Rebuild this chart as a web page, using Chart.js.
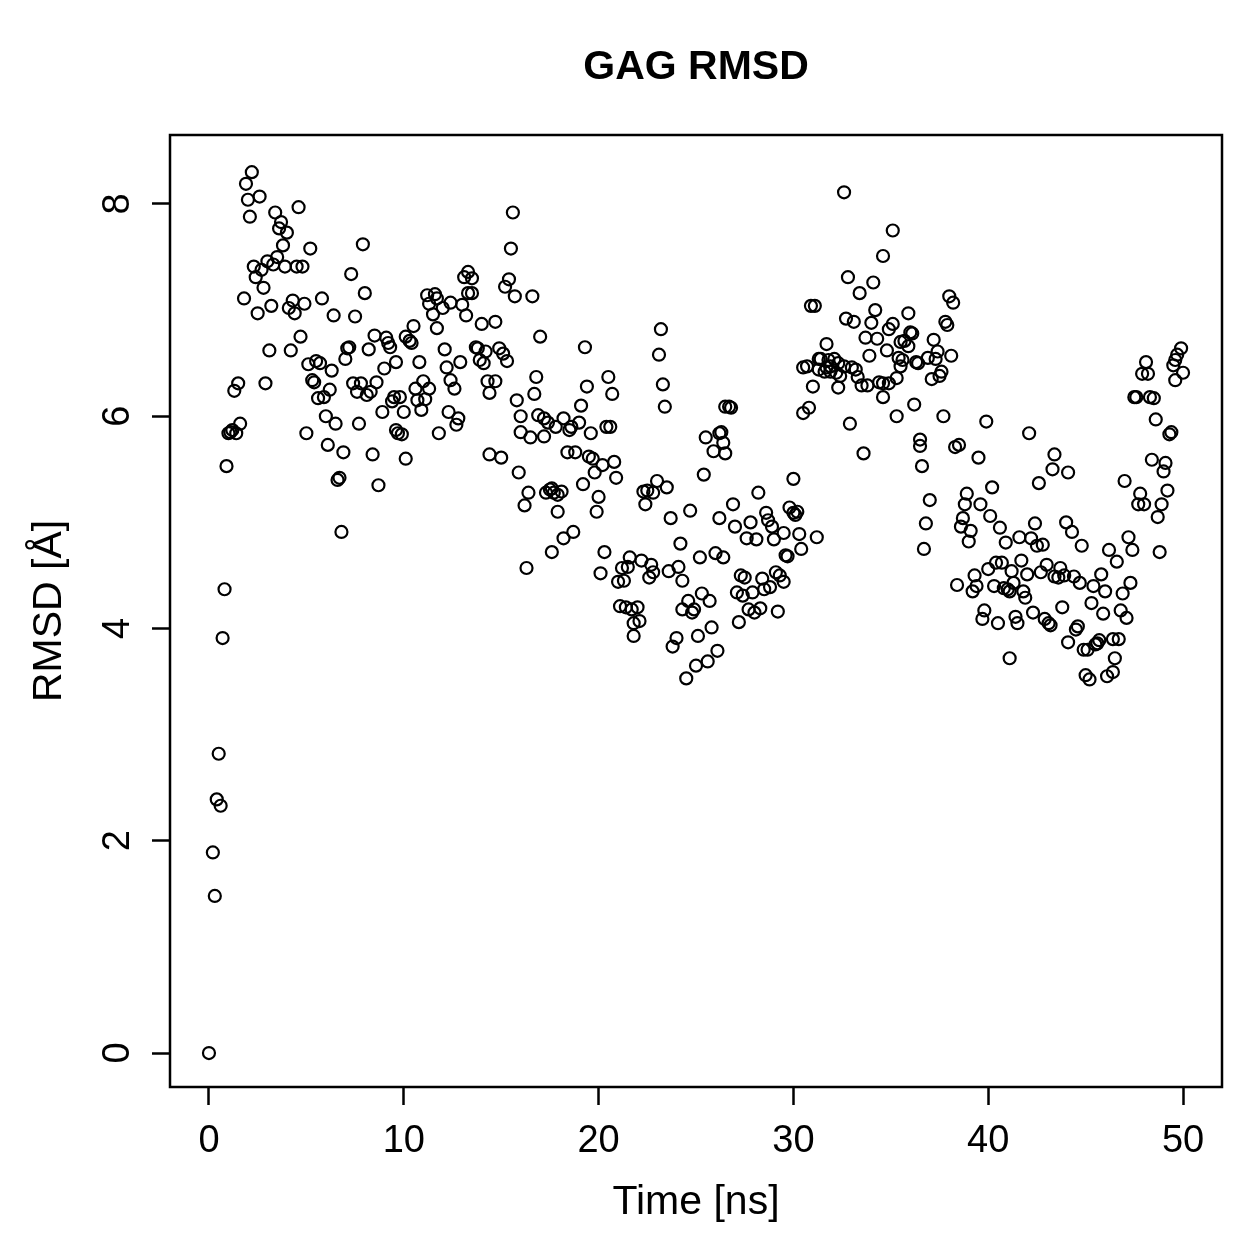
<!DOCTYPE html>
<html>
<head>
<meta charset="utf-8">
<title>GAG RMSD</title>
<script src="https://cdn.jsdelivr.net/npm/chart.js@4.4.1/dist/chart.umd.min.js"></script>
<style>
  html, body { margin: 0; padding: 0; background: #fff; }
</style>
</head>
<body>
<canvas id="rmsd-chart" width="1259" height="1259"></canvas>
<script>
// values, time in ns and RMSD in angstrom
const timeNs = [
  0.0, 0.2, 0.3, 0.4, 0.5, 0.6, 0.7, 0.8, 0.9, 1.0,
  1.1, 1.2, 1.3, 1.4, 1.5, 1.6, 1.8, 1.9, 2.0, 2.1,
  2.2, 2.3, 2.4, 2.5, 2.6, 2.7, 2.8, 2.9, 3.0, 3.1,
  3.2, 3.3, 3.4, 3.5, 3.6, 3.7, 3.8, 3.9, 4.0, 4.1,
  4.2, 4.3, 4.4, 4.5, 4.6, 4.7, 4.8, 4.9, 5.0, 5.1,
  5.2, 5.3, 5.4, 5.5, 5.6, 5.7, 5.8, 5.9, 6.0, 6.1,
  6.2, 6.3, 6.4, 6.5, 6.6, 6.7, 6.8, 6.9, 7.0, 7.1,
  7.2, 7.3, 7.4, 7.5, 7.6, 7.7, 7.8, 7.9, 8.0, 8.1,
  8.2, 8.3, 8.4, 8.5, 8.6, 8.7,
  8.9, 9.0, 9.1, 9.2, 9.3, 9.4, 9.5, 9.6, 9.6, 9.7,
  9.8, 9.9, 10.0, 10.1, 10.1, 10.3, 10.4, 10.5, 10.6, 10.7,
  10.8, 10.9, 11.0, 11.1, 11.2, 11.3, 11.3, 11.5, 11.6, 11.7,
  11.7, 11.8, 12.0, 12.1, 12.2, 12.3, 12.4, 12.4, 12.6, 12.7,
  12.8, 12.9, 13.0, 13.1, 13.2, 13.3, 13.3, 13.5, 13.5, 13.7,
  13.8, 13.9, 14.0, 14.1, 14.2, 14.3, 14.4, 14.4, 14.7, 14.7,
  14.9, 15.0, 15.1, 15.2, 15.3, 15.4, 15.5, 15.6, 15.7, 15.8,
  15.9, 16.0, 16.0, 16.2, 16.3, 16.4, 16.5, 16.6, 16.7, 16.8,
  16.9, 17.0, 17.2, 17.2, 17.3, 17.4, 17.5, 17.6, 17.6, 17.7,
  17.8, 17.9, 17.9, 18.1, 18.2, 18.2, 18.4, 18.5, 18.6, 18.7,
  18.8, 19.0, 19.1, 19.2, 19.3, 19.4, 19.5, 19.6, 19.7, 19.8,
  19.9, 20.0, 20.1, 20.2, 20.3, 20.4, 20.5, 20.6, 20.7, 20.8,
  20.9, 21.0, 21.1, 21.2, 21.3, 21.4, 21.5, 21.6, 21.7, 21.8,
  21.8, 22.0, 22.1, 22.2, 22.3, 22.4, 22.5, 22.6, 22.7, 22.8,
  22.8, 23.0, 23.1, 23.2, 23.3, 23.4, 23.5, 23.6, 23.7, 23.8,
  24.0, 24.1, 24.2, 24.3, 24.3, 24.5, 24.6, 24.7, 24.8, 24.9,
  25.0, 25.1, 25.2, 25.3, 25.4, 25.5, 25.6, 25.7, 25.8, 25.9,
  26.0, 26.1, 26.2, 26.2, 26.3, 26.4, 26.4, 26.5, 26.5, 26.7,
  26.8, 26.9, 27.0, 27.1, 27.2, 27.3, 27.4, 27.5, 27.6, 27.7,
  27.8, 27.9, 28.0, 28.1, 28.2, 28.3, 28.4, 28.5, 28.6, 28.7,
  28.8, 28.9, 29.0, 29.1, 29.2, 29.3, 29.5, 29.5, 29.6, 29.7,
  29.8, 30.0, 30.0, 30.1, 30.2, 30.3, 30.4, 30.5, 30.5, 30.7,
  30.8, 30.9, 31.0, 31.1, 31.2, 31.3, 31.3, 31.4, 31.6, 31.7,
  31.7, 31.8, 31.9, 31.9, 32.1, 32.2, 32.3, 32.3, 32.4, 32.6,
  32.6, 32.7, 32.8, 32.9, 33.0, 33.1, 33.2, 33.3, 33.4, 33.5,
  33.6, 33.7, 33.8, 33.9, 34.0, 34.1, 34.2, 34.3, 34.4, 34.6,
  34.6, 34.6, 34.8, 34.9, 34.9, 35.1, 35.1, 35.3, 35.3, 35.4,
  35.5, 35.5, 35.6, 35.7, 35.9, 35.9, 36.0, 36.1, 36.2, 36.3,
  36.4, 36.5, 36.5, 36.6, 36.7, 36.8, 36.9, 37.0, 37.1, 37.2,
  37.3, 37.4, 37.5, 37.6, 37.7, 37.8, 37.9, 38.0, 38.1, 38.2,
  38.3, 38.4, 38.5, 38.6, 38.7, 38.8, 38.9, 39.0, 39.1, 39.2,
  39.3, 39.4, 39.5, 39.6, 39.7, 39.8, 39.9, 40.0, 40.1, 40.2,
  40.3, 40.4, 40.5, 40.6, 40.7, 40.8, 40.9, 41.0, 41.1, 41.1,
  41.2, 41.3, 41.4, 41.5, 41.6, 41.7, 41.8, 41.9, 42.0, 42.1,
  42.2, 42.3, 42.4, 42.5, 42.6, 42.7, 42.8, 42.9, 43.0, 43.1,
  43.2, 43.3, 43.4, 43.4, 43.6, 43.7, 43.8, 43.9, 44.0, 44.1,
  44.1, 44.3, 44.4, 44.5, 44.6, 44.7, 44.8, 44.9, 45.0, 45.1,
  45.2, 45.3, 45.4, 45.5, 45.6, 45.7, 45.8, 45.9, 46.0, 46.1,
  46.2, 46.4, 46.4, 46.5, 46.6, 46.7, 46.8, 46.9, 47.0, 47.1,
  47.2, 47.3, 47.4, 47.5, 47.6, 47.7, 47.8, 47.9, 48.0, 48.1,
  48.2, 48.3, 48.4, 48.5, 48.6, 48.7, 48.8, 48.9, 49.0, 49.1,
  49.2, 49.3, 49.4, 49.5, 49.6, 49.6, 49.7, 49.9, 50.0
];

const rmsdAngstrom = [
  0.00, 1.89, 1.48, 2.39, 2.82, 2.33, 3.91, 4.37, 5.53, 5.84,
  5.85, 5.87, 6.24, 5.84, 6.31, 5.93, 7.11, 8.19, 8.04, 7.88,
  8.30, 7.41, 7.31, 6.97, 8.07, 7.38, 7.21, 6.31, 7.46, 6.62,
  7.04, 7.43, 7.92, 7.50, 7.77, 7.83, 7.61, 7.41, 7.73, 7.02,
  6.62, 7.09, 6.97, 7.41, 7.97, 6.75, 7.41, 7.06, 5.84, 6.49,
  7.58, 6.34, 6.32, 6.52, 6.17, 6.50, 7.11, 6.18, 6.00, 5.73,
  6.25, 6.43, 6.95, 5.93, 5.40, 5.42, 4.91, 5.66, 6.54, 6.64,
  6.65, 7.34, 6.31, 6.94, 6.23, 5.93, 6.31, 7.62, 7.16, 6.20,
  6.63, 6.23, 5.64, 6.76, 6.32, 5.35,
  6.04, 6.45, 6.74, 6.69, 6.65, 6.14, 6.18, 6.51, 5.87, 5.84,
  6.18, 5.83, 6.04, 5.60, 6.75, 6.71, 6.69, 6.85, 6.26, 6.15,
  6.51, 6.06, 6.33, 6.16, 7.14, 6.26, 7.06, 6.96, 7.15, 6.83,
  7.11, 5.84, 7.02, 6.63, 6.46, 6.04, 7.07, 6.34, 6.26, 5.92,
  5.98, 6.51, 7.05, 7.31, 6.95, 7.36, 7.16, 7.30, 7.16, 6.65,
  6.64, 6.53, 6.87, 6.50, 6.61, 6.33, 6.22, 5.64, 6.33, 6.89,
  6.64, 5.61, 6.59, 7.22, 6.52, 7.29, 7.58, 7.92, 7.13, 6.15,
  5.47, 6.00, 5.85, 5.16, 4.57, 5.28, 5.80, 7.13, 6.21, 6.37,
  6.01, 6.75, 5.98, 5.81, 5.28, 5.94, 5.31, 5.32, 4.72, 5.28,
  5.90, 5.26, 5.10, 5.29, 4.85, 5.98, 5.66, 5.87, 5.90, 4.91,
  5.66, 5.94, 6.10, 5.36, 6.65, 6.28, 5.62, 5.84, 5.60, 5.47,
  5.10, 5.24, 4.52, 5.54, 4.72, 5.90, 6.37, 5.90, 6.21, 5.57,
  5.42, 4.44, 4.21, 4.57, 4.45, 4.20, 4.58, 4.67, 4.18, 3.93,
  4.05, 4.20, 4.07, 4.64, 5.29, 5.17, 5.30, 4.48, 4.60, 4.53,
  5.28, 5.39, 6.58, 6.82, 6.30, 6.09, 5.33, 4.54, 5.04, 3.83,
  3.91, 4.58, 4.80, 4.45, 4.18, 3.53, 4.26, 5.11, 4.15, 4.18,
  3.65, 3.93, 4.67, 4.33, 5.45, 5.80, 3.69, 4.26, 4.01, 5.67,
  4.71, 3.79, 5.84, 5.04, 5.85, 5.75, 4.67, 6.09, 5.65, 6.09,
  6.08, 5.17, 4.96, 4.34, 4.06, 4.50, 4.31, 4.48, 4.85, 4.18,
  5.00, 4.34, 4.15, 4.84, 5.28, 4.19, 4.47, 4.37, 5.09, 5.02,
  4.39, 4.96, 4.84, 4.53, 4.16, 4.50, 4.44, 4.90, 4.69, 4.68,
  5.14, 5.09, 5.41, 5.07, 5.10, 4.89, 4.75, 6.46, 6.03, 6.47,
  6.08, 7.04, 6.28, 7.04, 4.86, 6.54, 6.44, 6.54, 6.42, 6.46,
  6.68, 6.53, 6.47, 6.42, 6.54, 6.41, 6.50, 6.27, 6.38, 8.11,
  6.47, 6.92, 7.31, 5.93, 6.46, 6.89, 6.44, 6.37, 7.16, 6.29,
  5.65, 6.74, 6.29, 6.57, 6.88, 7.26, 7.00, 6.73, 6.32, 7.51,
  6.31, 6.18, 6.62, 6.82, 6.31, 7.75, 6.87, 6.36, 6.00, 6.55,
  6.70, 6.47, 6.53, 6.71, 6.66, 6.97, 6.79, 6.78, 6.11, 6.51,
  6.50, 5.72, 5.78, 5.53, 4.75, 4.99, 6.55, 5.21, 6.35, 6.72,
  6.54, 6.61, 6.38, 6.42, 6.00, 6.89, 6.86, 7.13, 6.57, 7.07,
  5.71, 4.41, 5.73, 4.96, 5.04, 5.17, 5.27, 4.82, 4.92, 4.35,
  4.50, 4.40, 5.61, 5.17, 4.09, 4.17, 5.95, 4.56, 5.06, 5.33,
  4.40, 4.62, 4.05, 4.95, 4.62, 4.38, 4.81, 4.37, 4.35, 3.72,
  4.54, 4.43, 4.11, 4.05, 4.86, 4.64, 4.35, 4.29, 4.51, 5.84,
  4.85, 4.15, 4.99, 4.78, 5.37, 4.53, 4.79, 4.09, 4.60, 4.05,
  4.03, 5.50, 5.64, 4.49, 4.48, 4.57, 4.20, 4.50, 5.00, 5.47,
  3.87, 4.91, 4.49, 3.99, 4.02, 4.43, 4.78, 3.80, 3.56, 3.80,
  3.52, 4.24, 4.40, 3.85, 3.86, 3.89, 4.51, 4.14, 4.35, 3.55,
  4.74, 3.59, 3.90, 3.72, 4.63, 3.90, 4.17, 4.33, 5.39, 4.10,
  4.86, 4.43, 4.74, 6.18, 6.18, 5.17, 5.27, 6.40, 5.17, 6.51,
  6.40, 6.18, 5.59, 6.17, 5.97, 5.05, 4.72, 5.17, 5.48, 5.56,
  5.30, 5.83, 5.85, 6.48, 6.34, 6.53, 6.58, 6.64, 6.41
];

const xTicks = [0, 10, 20, 30, 40, 50];
const yTicks = [0, 2, 4, 6, 8];

const chartTitle = 'GAG RMSD';
const xLabel = 'Time [ns]';
const yLabel = 'RMSD [Å]';

const fontFamily = '"Liberation Sans", Arial, Helvetica, sans-serif';
const tickSize = 38;
const labelSize = 41;

if (timeNs.length !== rmsdAngstrom.length) {
  console.error('length mismatch', timeNs.length, rmsdAngstrom.length);
}

const points = timeNs.map((t, i) => ({ x: t, y: rmsdAngstrom[i] }));

// box around the plot region and the bold title, R style
const framePlugin = {
  id: 'frame',
  afterDraw(chart) {
    const { ctx, chartArea } = chart;
    ctx.save();
    ctx.strokeStyle = '#000';
    ctx.lineWidth = 2.5;
    ctx.strokeRect(chartArea.left, chartArea.top,
      chartArea.right - chartArea.left, chartArea.bottom - chartArea.top);
    ctx.fillStyle = '#000';
    ctx.font = 'bold ' + labelSize + 'px ' + fontFamily;
    ctx.textAlign = 'center';
    ctx.textBaseline = 'middle';
    ctx.fillText(chartTitle, (chartArea.left + chartArea.right) / 2, 68);
    ctx.restore();
  }
};

const canvas = document.getElementById('rmsd-chart');
new Chart(canvas, {
  type: 'scatter',
  data: {
    datasets: [{
      data: points,
      pointStyle: 'circle',
      pointRadius: 6,
      pointBorderWidth: 2.2,
      borderColor: '#000',
      backgroundColor: 'rgba(0,0,0,0)'
    }]
  },
  options: {
    responsive: false,
    animation: false,
    devicePixelRatio: 1,
    layout: { padding: { top: 135, right: 37, bottom: 0, left: 0 } },
    plugins: {
      legend: { display: false },
      tooltip: { enabled: false }
    },
    scales: {
      x: {
        type: 'linear',
        min: -2,
        max: 52,
        afterBuildTicks: scale => { scale.ticks = xTicks.map(v => ({ value: v })); },
        afterFit: scale => { scale.height = 172; },
        border: { display: false },
        grid: { drawOnChartArea: false, drawTicks: true, tickLength: 18, tickWidth: 2.5, tickColor: '#000' },
        ticks: { color: '#000', padding: 14, font: { family: fontFamily, size: tickSize } },
        title: {
          display: true,
          text: xLabel,
          color: '#000',
          font: { family: fontFamily, size: labelSize },
          padding: { top: 0, bottom: 32 }
        }
      },
      y: {
        type: 'linear',
        min: -0.32,
        max: 8.65,
        afterBuildTicks: scale => { scale.ticks = yTicks.map(v => ({ value: v })); },
        afterFit: scale => { scale.width = 170; },
        border: { display: false },
        grid: { drawOnChartArea: false, drawTicks: true, tickLength: 18, tickWidth: 2.5, tickColor: '#000' },
        ticks: {
          color: '#000',
          padding: 23,
          minRotation: 90,
          maxRotation: 90,
          crossAlign: 'center',
          font: { family: fontFamily, size: tickSize }
        },
        title: {
          display: true,
          text: yLabel,
          color: '#000',
          font: { family: fontFamily, size: labelSize },
          padding: { top: 25, bottom: 0 }
        }
      }
    }
  },
  plugins: [framePlugin]
});
</script>
</body>
</html>
